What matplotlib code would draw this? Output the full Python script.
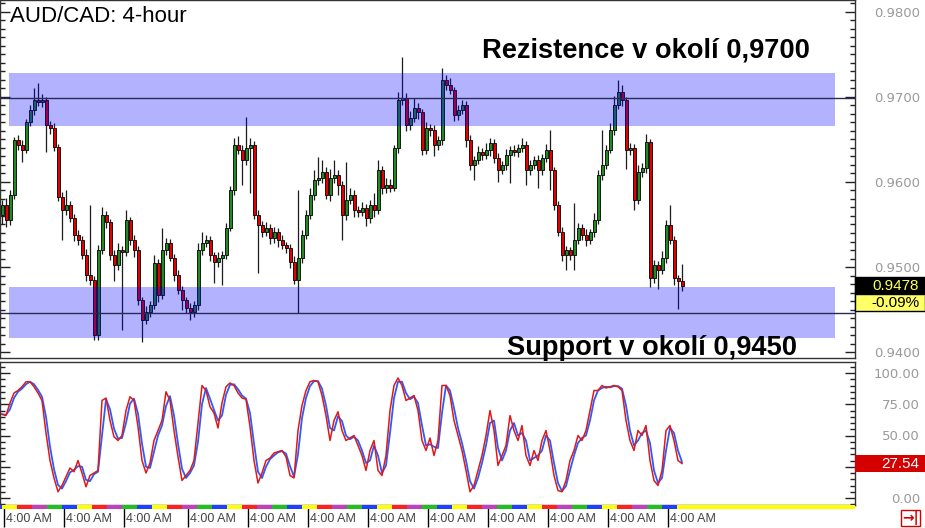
import numpy as np
import pandas as pd
import matplotlib
matplotlib.use('Agg')
import matplotlib.pyplot as plt
import matplotlib.transforms as mtransforms
from matplotlib.patches import Rectangle
from matplotlib.ticker import MultipleLocator, FormatStrFormatter, FixedLocator, FixedFormatter

plt.rcParams['font.family'] = ['Liberation Sans', 'DejaVu Sans']

# AUD/CAD 4h candles, closes (open = previous close)
first_open = 0.9561
closes = [
    0.9573, 0.9555, 0.9585, 0.9649, 0.9644, 0.9638, 0.9671, 0.9685, 0.9696, 0.9694,
    0.9696, 0.9667, 0.9663, 0.9641, 0.9582, 0.9567, 0.9573, 0.9558, 0.9538, 0.9532,
    0.9514, 0.9491, 0.9485, 0.9420, 0.9520, 0.9561, 0.9553, 0.9514, 0.9502, 0.9520,
    0.9518, 0.9555, 0.9532, 0.9520, 0.9461, 0.9438, 0.9447, 0.9455, 0.9505, 0.9467,
    0.9520, 0.9528, 0.9511, 0.9491, 0.9473, 0.9461, 0.9452, 0.9447, 0.9455, 0.9520,
    0.9528, 0.9532, 0.9514, 0.9506, 0.9511, 0.9514, 0.9546, 0.9591, 0.9644, 0.9638,
    0.9626, 0.9640, 0.9644, 0.9561, 0.9549, 0.9541, 0.9546, 0.9534, 0.9541, 0.9532,
    0.9526, 0.9522, 0.9506, 0.9485, 0.9511, 0.9538, 0.9561, 0.9585, 0.9602, 0.9605,
    0.9612, 0.9585, 0.9605, 0.9608, 0.9597, 0.9561, 0.9579, 0.9585, 0.9567, 0.9565,
    0.9569, 0.9558, 0.9573, 0.9567, 0.9614, 0.9593, 0.9597, 0.9593, 0.9640, 0.9696,
    0.9699, 0.9667, 0.9675, 0.9687, 0.9682, 0.9638, 0.9663, 0.9661, 0.9644, 0.9649,
    0.9720, 0.9714, 0.9708, 0.9679, 0.9685, 0.9691, 0.9649, 0.9620, 0.9626, 0.9635,
    0.9632, 0.9638, 0.9646, 0.9628, 0.9614, 0.9620, 0.9632, 0.9638, 0.9635, 0.9640,
    0.9644, 0.9614, 0.9620, 0.9626, 0.9614, 0.9628, 0.9638, 0.9614, 0.9573, 0.9541,
    0.9514, 0.9520, 0.9514, 0.9532, 0.9546, 0.9538, 0.9532, 0.9541, 0.9555, 0.9608,
    0.9620, 0.9638, 0.9661, 0.9691, 0.9706, 0.9696, 0.9638, 0.9640, 0.9579, 0.9612,
    0.9616, 0.9647, 0.9487, 0.9502, 0.9497, 0.9511, 0.9549, 0.9532, 0.9487, 0.9484,
    0.9478,
]
# wick lengths above / below the body, in pips
up_wick = [
    6, 8, 5, 4, 6, 5, 3, 6, 14, 20,
    8, 4, 5, 6, 4, 6, 18, 5, 4, 6,
    5, 7, 82, 4, 6, 9, 5, 4, 6, 8,
    5, 12, 4, 6, 5, 4, 7, 5, 9, 4,
    26, 6, 5, 4, 6, 5, 4, 6, 5, 8,
    13, 6, 5, 4, 7, 5, 6, 4, 8, 10,
    6, 36, 8, 4, 6, 5, 7, 4, 6, 5,
    6, 4, 5, 7, 80, 5, 6, 8, 12, 24,
    14, 6, 10, 18, 6, 4, 45, 8, 6, 5,
    7, 5, 6, 14, 12, 5, 8, 6, 4, 10,
    48, 6, 8, 12, 6, 4, 8, 5, 6, 5,
    14, 6, 8, 4, 6, 5, 4, 6, 5, 7,
    5, 8, 6, 4, 6, 5, 7, 4, 6, 5,
    8, 4, 6, 5, 6, 5, 7, 23, 4, 5,
    6, 5, 4, 43, 6, 5, 7, 4, 8, 6,
    41, 6, 8, 10, 14, 8, 4, 6, 5, 8,
    6, 10, 4, 6, 5, 8, 6, 24, 5, 4,
    20,
]
dn_wick = [
    10, 8, 6, 5, 6, 15, 4, 5, 6, 5,
    6, 32, 6, 5, 4, 35, 6, 5, 7, 6,
    5, 8, 6, 6, 6, 5, 7, 6, 18, 6,
    92, 5, 6, 8, 6, 26, 5, 6, 4, 8,
    5, 6, 4, 7, 5, 12, 6, 9, 6, 5,
    6, 5, 7, 25, 6, 32, 5, 4, 6, 5,
    30, 6, 53, 5, 56, 6, 5, 7, 6, 8,
    5, 6, 7, 5, 39, 6, 5, 4, 6, 5,
    6, 5, 7, 6, 12, 29, 6, 5, 8, 6,
    5, 10, 6, 8, 5, 7, 6, 5, 4, 6,
    5, 7, 6, 5, 8, 6, 5, 7, 14, 6,
    5, 6, 5, 7, 6, 5, 8, 6, 18, 5,
    6, 5, 7, 6, 14, 5, 6, 33, 5, 6,
    5, 18, 6, 5, 21, 6, 5, 23, 6, 5,
    7, 18, 6, 18, 5, 6, 7, 5, 6, 5,
    6, 5, 4, 6, 5, 7, 23, 6, 12, 5,
    6, 5, 11, 6, 23, 5, 6, 5, 8, 33,
    6,
]
# stochastic %K
stoch_k = [
    67, 66, 76, 84, 86, 89, 93, 93, 89, 84,
    78, 52, 30, 16, 5, 10, 17, 24, 21, 30,
    20, 9, 18, 20, 22, 78, 80, 62, 49, 46,
    50, 70, 81, 78, 57, 30, 20, 28, 46, 54,
    62, 85, 78, 54, 33, 14, 18, 22, 30, 60,
    90, 86, 73, 68, 56, 76, 89, 92, 90, 84,
    80, 79, 57, 30, 12, 20, 30, 32, 36, 37,
    38, 33, 18, 16, 54, 74, 86, 93, 94, 93,
    82, 66, 46, 62, 69, 54, 46, 48, 50, 42,
    34, 22, 38, 46, 22, 18, 34, 70, 90, 96,
    90, 78, 80, 82, 70, 46, 38, 48, 34, 46,
    90, 90, 82, 62, 50, 38, 22, 5, 10, 22,
    34, 50, 70, 54, 26, 34, 42, 66, 54, 46,
    58, 34, 26, 38, 30, 46, 54, 38, 18, 6,
    5, 14, 30, 38, 50, 46, 54, 70, 86, 86,
    90, 88, 89, 90, 89, 86, 62, 46, 38, 54,
    50, 58, 30, 14, 10, 22, 54, 58, 46, 30,
    27.54,
]

resistance_zone = (0.9666, 0.9728)
resistance_level = 0.9699
support_zone = (0.9416, 0.9476)
support_level = 0.9446
last_change = '-0.09%'

stoch_ticks = [0, 25, 50, 75, 100]
stoch_tick_labels = ['0.00', '', '50.00', '75.00', '100.00']  # 25.00 sits under the value tag

day_ticks = [0, 15, 30, 46, 61, 76, 91, 106, 121, 136, 151, 166]
day_labels = ['4:00 AM'] * len(day_ticks)
session_colors = ['#ffff00', '#ff2020', '#c040c0', '#20c020', '#2040ff']

closes = np.array(closes)
opens = np.concatenate([[first_open], closes[:-1]])
highs = np.maximum(opens, closes) + np.array(up_wick) * 0.0001
lows = np.minimum(opens, closes) - np.array(dn_wick) * 0.0001
idx = np.arange(len(closes))

fig = plt.figure(figsize=(9.25, 5.28), dpi=100)
ax1 = fig.add_axes([0, 1 - 358 / 528, 855 / 925, 358 / 528])
ax2 = fig.add_axes([0, 1 - 505 / 528, 855 / 925, 143 / 528])
xlim = (-0.5, 213.25)

# candles
body_cols = np.where(closes > opens, '#238a23', np.where(closes < opens, '#e30000', 'black'))
ax1.vlines(idx, lows, highs, color='#1c1c1c', lw=0.9, zorder=2)
ax1.bar(idx, np.maximum(np.abs(closes - opens), 0.00006), bottom=np.minimum(opens, closes),
        width=0.75, color=body_cols, edgecolor='black', linewidth=0.6, zorder=3)

# zones and levels
for lo, hi in (resistance_zone, support_zone):
    ax1.axhspan(lo, hi, xmin=9 / 855, xmax=835 / 855, color=(0, 0, 1), alpha=0.3, lw=0, zorder=4)
for lvl in (resistance_level, support_level):
    ax1.axhline(lvl, color='#2a2a55', lw=1, zorder=5)

ax1.set_xlim(*xlim)
ax1.set_ylim(0.9393, 0.9814)
ax1.yaxis.set_major_locator(MultipleLocator(0.01))
ax1.yaxis.set_minor_locator(MultipleLocator(0.001))
ax1.yaxis.set_major_formatter(FormatStrFormatter('%.4f'))
ax1.set_xticks([])

# stochastic
k = pd.Series(stoch_k, dtype=float)
d = k.rolling(2, min_periods=1).mean()
ax2.plot(idx, d, color='#2a5cff', lw=1.3, zorder=3)
ax2.plot(idx, k, color='#e01818', lw=1.1, zorder=4)
ax2.set_xlim(*xlim)
ax2.set_ylim(-5.6, 108.8)
ax2.yaxis.set_major_locator(FixedLocator(stoch_ticks))
ax2.yaxis.set_major_formatter(FixedFormatter(stoch_tick_labels))
ax2.yaxis.set_minor_locator(MultipleLocator(5))

for ax in (ax1, ax2):
    ax.tick_params(axis='y', which='both', direction='in', left=True, right=True,
                   labelleft=False, labelright=True, width=1, color='#222')
    ax.tick_params(axis='y', which='major', length=7, pad=46.8, labelsize=9.5, labelcolor='#9a9a9a')
    ax.tick_params(axis='y', which='minor', length=3.5)
    for lbl in ax.get_yticklabels():
        lbl.set_horizontalalignment('right')
        lbl.set_fontfamily('DejaVu Sans')
    for s in ax.spines.values():
        s.set_color('#333333')
        s.set_linewidth(1)

# x axis: day separators and labels
ax2.set_xticks(np.array(day_ticks) + 0.5)
ax2.tick_params(axis='x', direction='out', length=16, width=1, color='black', labelbottom=False)
for p, lab in zip(day_ticks, day_labels):
    ax2.annotate(lab, xy=(p + 0.5, 0), xycoords=('data', 'axes fraction'),
                 xytext=(1.5, -10), textcoords='offset points', ha='left', va='center',
                 fontsize=9, color='#444444', annotation_clip=False)

# session colour strip
segs, cols = [], []
block = 3.75
start = -block
n = 0
while start < len(closes) - 2:
    segs.append((start, block))
    cols.append(session_colors[(n - 1) % len(session_colors)])
    start += block
    n += 1
segs.append((start, xlim[1] - start))
cols.append('#ffff00')
ax2.broken_barh(segs, (-0.03, 0.03), facecolors=cols, transform=ax2.get_xaxis_transform(),
                clip_on=False, zorder=5)

# right-side value tags
tr1 = mtransforms.blended_transform_factory(ax1.transAxes, ax1.transData)
tag_w = 70 / 855
tag_h = 17 / 8500
last = closes[-1]
ax1.add_patch(Rectangle((1, last - tag_h / 2), tag_w, tag_h, transform=tr1, facecolor='black',
                        edgecolor='black', clip_on=False, zorder=10))
ax1.text(1 + 64 / 855, last, f'{last:.4f}', transform=tr1, ha='right', va='center',
         color='#ffff55', fontsize=11, clip_on=False, zorder=11)
ax1.add_patch(Rectangle((1, last - 1.5 * tag_h), tag_w, tag_h, transform=tr1, facecolor='#ffff66',
                        edgecolor='black', lw=1, clip_on=False, zorder=10))
ax1.text(1 + 64 / 855, last - tag_h, last_change, transform=tr1, ha='right', va='center',
         color='black', fontsize=11, clip_on=False, zorder=11)

tr2 = mtransforms.blended_transform_factory(ax2.transAxes, ax2.transData)
ax2.add_patch(Rectangle((1, stoch_k[-1] - 6.6), tag_w, 13.2, transform=tr2, facecolor='#d40000',
                        edgecolor='none', clip_on=False, zorder=10))
ax2.text(1 + 64 / 855, stoch_k[-1], f'{stoch_k[-1]:.2f}', transform=tr2, ha='right', va='center',
         color='white', fontsize=11, clip_on=False, zorder=11)

# titles and notes
fig.text(10 / 925, 1 - 22 / 528, 'AUD/CAD: 4-hour', fontsize=16, color='black', va='baseline')
fig.text(482 / 925, 1 - 58 / 528, 'Rezistence v okolí 0,9700', fontsize=19.6, fontweight='bold',
         va='baseline')
fig.text(507 / 925, 1 - 355 / 528, 'Support v okolí 0,9450', fontsize=19.6, fontweight='bold',
         va='baseline')
fig.text(0.993, 1 - 518 / 528, '→|', fontsize=10, color='#d40000', ha='right', va='center',
         fontweight='bold', family=['DejaVu Sans'],
         bbox=dict(boxstyle='square,pad=0.1', fc='white', ec='#d40000', lw=1))

fig.savefig('out.png', dpi=100)
